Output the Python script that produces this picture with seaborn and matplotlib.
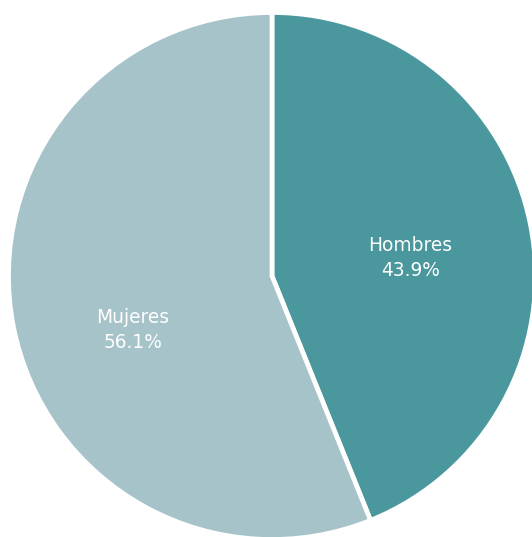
import matplotlib
matplotlib.use("Agg")
import matplotlib.pyplot as plt
import seaborn as sns
import numpy as np

categories = ["Hombres", "Mujeres"]
values = [43.9, 56.1]
colors = ["#4B979E", "#A6C3CA"]

sns.set_style("white")
plt.rcParams['font.family'] = ['DejaVu Sans']
palette = sns.color_palette(colors)

fig = plt.figure(figsize=(5.32, 5.37), dpi=100)
ax = fig.add_axes([0, 0, 1, 1])

cx, cy, r = 272, 537 - 276, 263.5
wedges, texts = ax.pie(values, colors=palette, startangle=90, counterclock=False,
                       center=(cx, cy), radius=r,
                       wedgeprops=dict(edgecolor='white', linewidth=3.4))
ax.set_xlim(0, 532)
ax.set_ylim(0, 537)
ax.set_aspect('equal')
ax.axis('off')

offsets = [(0, -9), (-1, -27)]
for w, cat, v, (ox, oy) in zip(wedges, categories, values, offsets):
    mid = np.deg2rad((w.theta1 + w.theta2) / 2)
    x = cx + 0.535 * r * np.cos(mid) + ox
    y = cy + 0.535 * r * np.sin(mid) + oy
    ax.text(x, y, f"{cat}\n{v:.1f}%", ha='center', va='center', color='white',
            fontsize=13.4, linespacing=1.4)

fig.savefig("out.png", dpi=100)
